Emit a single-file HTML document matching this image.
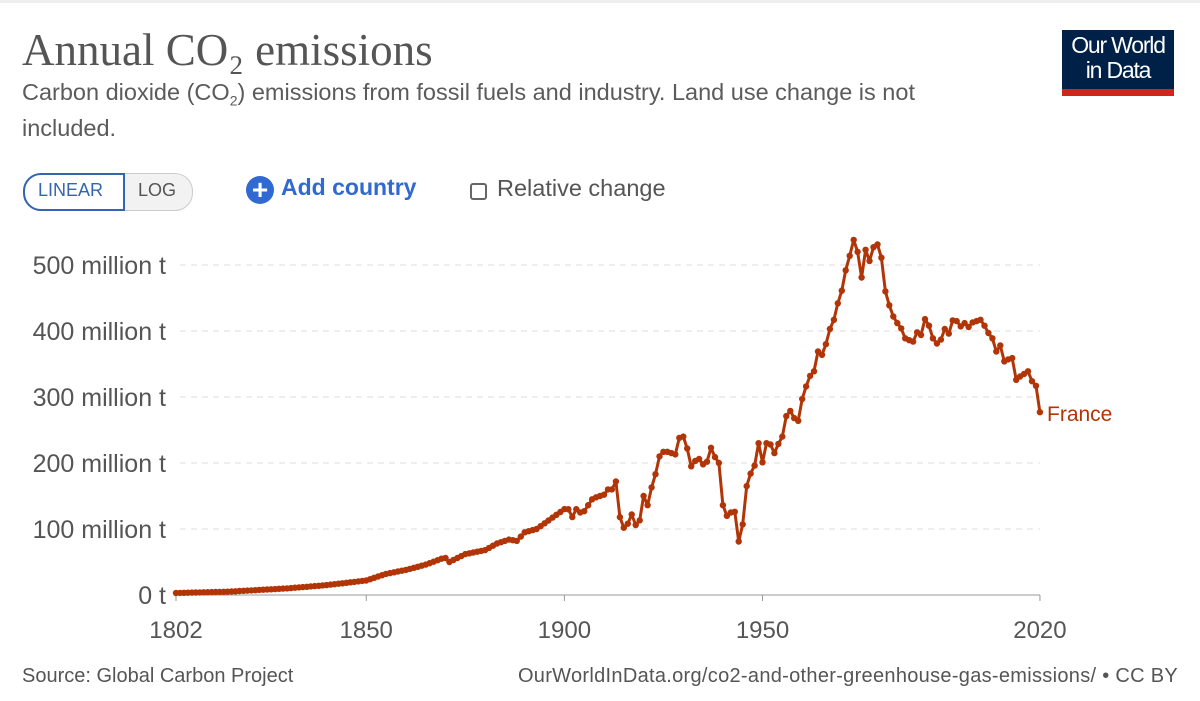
<!DOCTYPE html><html><head><meta charset="utf-8"><style>
body{margin:0;width:1200px;height:701px;background:#fff;font-family:"Liberation Sans",sans-serif;overflow:hidden;position:relative}
.t{position:absolute;white-space:nowrap}
</style></head><body>
<div style="position:absolute;left:0;top:0;width:1200px;height:3px;background:#eee"></div>
<div class="t" style="left:22px;top:24px;font-family:'Liberation Serif',serif;font-size:45px;color:#555">Annual CO₂ emissions</div>
<div class="t" style="left:22px;top:79px;font-size:23.5px;color:#5b5b5b;line-height:27px">Carbon dioxide (CO<sub style="font-size:14px">2</sub>) emissions from fossil fuels and industry. Land use change is not<br>included.</div>
<div style="position:absolute;left:1062px;top:30px;width:112px;height:66px;background:#002147"><div style="position:absolute;bottom:0;left:0;width:112px;height:7px;background:#ce261e"></div><div class="t" style="left:0;width:112px;top:3px;text-align:center;color:#fff;font-size:23px;line-height:25px;letter-spacing:-1.2px">Our World<br>in Data</div></div>
<div style="position:absolute;left:23px;top:173px;width:168px;height:36px;border:1px solid #ccc;border-radius:18px;background:#f2f2f2"></div>
<div style="position:absolute;left:23px;top:173px;width:98px;height:34px;border:2px solid #3465b0;border-radius:18px 0 0 18px;background:#fff"></div>
<div class="t" style="left:38px;top:180px;font-size:18px;color:#3465b0">LINEAR</div>
<div class="t" style="left:138px;top:180px;font-size:18px;color:#555">LOG</div>
<div style="position:absolute;left:246px;top:176px;width:28px;height:28px;border-radius:50%;background:#3069d1;color:#fff;font-size:28px;line-height:27px;text-align:center;font-weight:bold">+</div>
<div class="t" style="left:281px;top:174px;font-size:23px;color:#3069d1;font-weight:bold">Add country</div>
<div style="position:absolute;left:470px;top:183px;width:13px;height:13px;border:2px solid #666;border-radius:3px"></div>
<div class="t" style="left:497px;top:175px;font-size:23.5px;color:#555">Relative change</div>
<svg id="s" width="1200" height="701" style="position:absolute;left:0;top:0"></svg>
<div class="t" style="left:22px;top:665px;font-size:20px;color:#555">Source: Global Carbon Project</div>
<div class="t" style="right:22px;top:665px;font-size:20px;color:#555;letter-spacing:0.3px">OurWorldInData.org/co2-and-other-greenhouse-gas-emissions/ • CC BY</div>
<script>
const X=y=>176+(y-1802)*3.963, Y=v=>595-v*0.66;
let s='';
[0,100,200,300,400,500].forEach(v=>{
 if(v>0)s+=`<line x1="180" x2="1040" y1="${Y(v)}" y2="${Y(v)}" stroke="#ddd" stroke-width="1" stroke-dasharray="6,5"/>`;
 s+=`<text x="166" y="${Y(v)+9}" text-anchor="end" font-size="25" fill="#555" font-family="Liberation Sans">${v?v+' million t':'0 t'}</text>`;
});
s+=`<line x1="176" x2="1040" y1="595" y2="595" stroke="#999"/>`;
[1802,1850,1900,1950,2020].forEach(y=>{s+=`<line x1="${X(y)}" x2="${X(y)}" y1="595" y2="601" stroke="#999"/><text x="${X(y)}" y="638" text-anchor="middle" font-size="24" fill="#555" font-family="Liberation Sans">${y}</text>`;});
const A={1802:3,1815:5,1830:10,1840:15,1850:22,1855:32,1860:38,1865:46,1869:55,1870:56,1871:50,1875:62,1880:68,1883:78,1886:84,1888:82,1890:95,1893:100};
const B=[130,118,130,125,127,136,145,148,150,152,160,160,172,118,102,108,122,106,113,150,136,163,183,210,217,217,215,213,238,240,222,195,203,206,198,202,223,209,200,136,120,125,126,81,107,165,184,196,230,201,230,228,215,229,240,271,279,268,264,297,316,332,339,369,364,380,403,417,442,461,492,514,538,520,481,523,506,527,531,511,460,439,422,412,404,389,386,384,398,394,418,408,389,381,387,403,396,416,415,407,412,406,413,415,417,408,397,389,369,378,354,357,359,326,331,335,339,324,317,277];
const D={};const ks=Object.keys(A).map(Number);
for(let i=0;i<ks.length-1;i++)for(let y=ks[i];y<ks[i+1];y++)D[y]=A[ks[i]]+(A[ks[i+1]]-A[ks[i]])*(y-ks[i])/(ks[i+1]-ks[i]);
D[1893]=100;for(let y=1894;y<1901;y++)D[y]=100+(y-1893)*4.3;
B.forEach((v,i)=>D[1901+i]=v);
let pts=[],c='';
for(let y=1802;y<=2020;y++){if(D[y]===undefined)continue;pts.push(X(y).toFixed(1)+','+Y(D[y]).toFixed(1));c+=`<circle cx="${X(y).toFixed(1)}" cy="${Y(D[y]).toFixed(1)}" r="3.2" fill="#b13507"/>`;}
s+=`<polyline points="${pts.join(' ')}" fill="none" stroke="#b13507" stroke-width="3" stroke-linejoin="round"/>`+c;
s+=`<text x="1047" y="421" font-size="21" fill="#b13507" font-family="Liberation Sans">France</text>`;
document.getElementById('s').innerHTML=s;
</script></body></html>
